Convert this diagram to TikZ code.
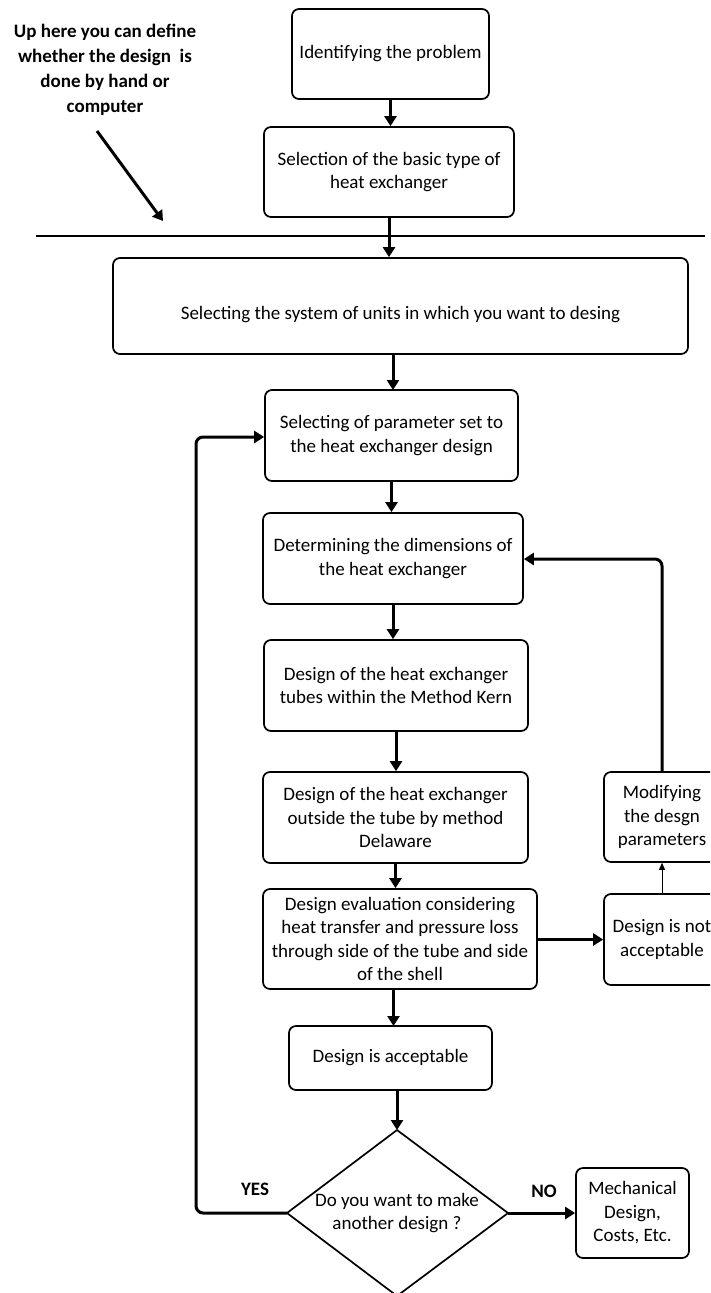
\documentclass[tikz,border=0pt]{standalone}
\usepackage{fontspec}
\setmainfont{Carlito}
\usetikzlibrary{arrows.meta,calc}
\begin{document}
\begin{tikzpicture}[x=1pt,y=-1pt,
  box/.style={draw, line width=1.7pt, rounded corners=7pt, align=center, inner sep=2pt,
    font=\fontsize{19}{23.5}\selectfont},
  arr/.style={line width=3pt, -{Triangle[length=10pt,width=12pt]}},
  thinarr/.style={line width=0.8pt, -{Triangle[length=7pt,width=6pt]}},
  lbl/.style={font=\fontsize{19}{25}\selectfont\bfseries, align=center}]
\useasboundingbox (0,0) rectangle (710,1293);
\clip (0,0) rectangle (710,1293);
% boxes
\node[box, minimum width=197pt, minimum height=90pt] (b1) at (390.5,54) {Identifying the problem};
\node[box, minimum width=250pt, minimum height=90pt] (b2) at (389,172) {Selection of the basic type of\\heat exchanger};
\node[box, minimum width=575pt, minimum height=96pt] (b3) at (400.5,306) {\raisebox{-13pt}[0pt][0pt]{Selecting the system of units in which you want to desing}};
\node[box, minimum width=253pt, minimum height=91pt] (b4) at (391.5,435.5) {Selecting of parameter set to\\the heat exchanger design};
\node[box, minimum width=260pt, minimum height=91pt] (b5) at (393,558.5) {Determining the dimensions of\\the heat exchanger};
\node[box, minimum width=264pt, minimum height=91pt] (b6) at (396,685.5) {Design of the heat exchanger\\tubes within the Method Kern};
\node[box, minimum width=265pt, minimum height=91pt] (b7) at (395.5,817.5) {Design of the heat exchanger\\outside the tube by method\\Delaware};
\node[box, minimum width=274pt, minimum height=100pt] (b8) at (400,939) {Design evaluation considering\\heat transfer and pressure loss\\through side of the tube and side\\of the shell};
\node[box, minimum width=203pt, minimum height=64pt] (b9) at (390.5,1058) {Design is acceptable};
\node[box, minimum width=116pt, minimum height=90pt] (mod) at (662,817) {Modifying\\the desgn\\parameters};
\node[box, minimum width=116pt, minimum height=91pt] (nacc) at (662,939.5) {Design is not\\acceptable};
\node[box, minimum width=113pt, minimum height=90pt] (mech) at (632.5,1213) {Mechanical\\Design,\\Costs, Etc.};
% diamond
\coordinate (dt) at (397,1130);
\coordinate (dl) at (287,1213);
\coordinate (dr) at (508,1213);
\coordinate (db) at (397,1296);
\draw[line width=1.7pt, line join=miter] (dt) -- (dr) -- (db) -- (dl) -- cycle;
\node[font=\fontsize{19}{23.5}\selectfont, align=center] (dq) at (397,1213) {Do you want to make\\another design ?};
% labels
\node[lbl] (note) at (105,70) {Up here you can define\\whether the design\ \ is\\done by hand or\\computer};
\node[lbl] (yes) at (255,1189) {YES};
\node[lbl] (no) at (544,1191) {NO};
% separator line
\coordinate (la) at (36,236);
\coordinate (lb) at (705,236);
\draw[line width=2.6pt] (la) -- (lb);
\coordinate (n1) at (97,131);
\coordinate (n2) at (163,221);
\draw[arr] (n1) -- (n2);
% connectors
\draw[arr] (b1.south) -- (b1.south |- b2.north);
\draw[arr] (b2.south) -- (b2.south |- b3.north);
\draw[arr] (393,354) -- (393,390);
\draw[arr] (b4.south) -- (b4.south |- b5.north);
\draw[arr] (b5.south) -- (b5.south |- b6.north);
\draw[arr] (b6.south) -- (b6.south |- b7.north);
\draw[arr] (b7.south) -- (b7.south |- b8.north);
\draw[arr] (393.5,989) -- (393.5,1026);
\draw[arr] (397,1090) -- (dt);
\draw[arr] (dr) -- (mech.west);
\draw[arr] (b8.east |- nacc.west) -- (nacc.west);
\draw[thinarr] (nacc.north) -- (mod.south);
\draw[arr, rounded corners=7pt] (mod.north) -- (662,559) -- (b5.east |- 0,559);
\draw[arr, rounded corners=7pt] (dl) -- (196,1213) -- (196,437) -- (b4.west |- 0,437);
\end{tikzpicture}
\end{document}
